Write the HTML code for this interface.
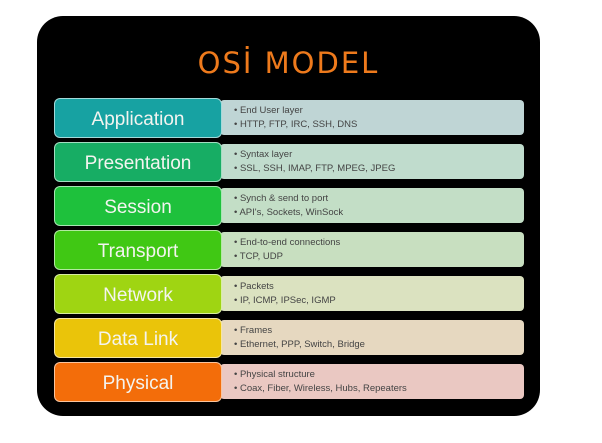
<!DOCTYPE html>
<html><head><meta charset="utf-8"><style>
body{margin:0;width:602px;height:443px;background:#fff;position:relative;overflow:hidden;font-family:"Liberation Sans","DejaVu Sans",sans-serif}
.bk{position:absolute;left:37px;top:16px;width:503px;height:400px;background:#000;border-radius:26px}
.t{position:absolute;left:37px;width:503px;top:46px;text-align:center;color:#ee7a1c;font-family:"DejaVu Sans",sans-serif;font-size:29px;letter-spacing:2px}
.l{position:absolute;left:54px;width:168px;height:40px;border-radius:6px;border:1px solid rgba(255,255,255,.6);box-sizing:border-box;color:#f4f4f0;font-size:19px;text-align:center;line-height:41px;z-index:2}
.r{position:absolute;left:220px;width:304px;height:35px;border-radius:4px;font-size:9.5px;color:#444;padding-left:14px;box-sizing:border-box;line-height:14px;padding-top:4px}
</style></head><body>
<div class="bk"></div>
<div class="t">OSİ MODEL</div>

<div class="l" style="top:98px;background:#17a2a2">Application</div>
<div class="r" style="top:100px;background:#bfd5d5">• End User layer<br>• HTTP, FTP, IRC, SSH, DNS</div>

<div class="l" style="top:142px;background:#17ad64">Presentation</div>
<div class="r" style="top:144px;background:#c0dccd">• Syntax layer<br>• SSL, SSH, IMAP, FTP, MPEG, JPEG</div>

<div class="l" style="top:186px;background:#1ec13c">Session</div>
<div class="r" style="top:188px;background:#c3dec6">• Synch &amp; send to port<br>• API's, Sockets, WinSock</div>

<div class="l" style="top:230px;background:#40c814">Transport</div>
<div class="r" style="top:232px;background:#c8dfc0">• End-to-end connections<br>• TCP, UDP</div>

<div class="l" style="top:274px;background:#9fd512">Network</div>
<div class="r" style="top:276px;background:#dbe2c0">• Packets<br>• IP, ICMP, IPSec, IGMP</div>

<div class="l" style="top:318px;background:#eac40a">Data Link</div>
<div class="r" style="top:320px;background:#e6d8c0">• Frames<br>• Ethernet, PPP, Switch, Bridge</div>

<div class="l" style="top:362px;background:#f36d0a">Physical</div>
<div class="r" style="top:364px;background:#eac8c2">• Physical structure<br>• Coax, Fiber, Wireless, Hubs, Repeaters</div>
</body></html>
